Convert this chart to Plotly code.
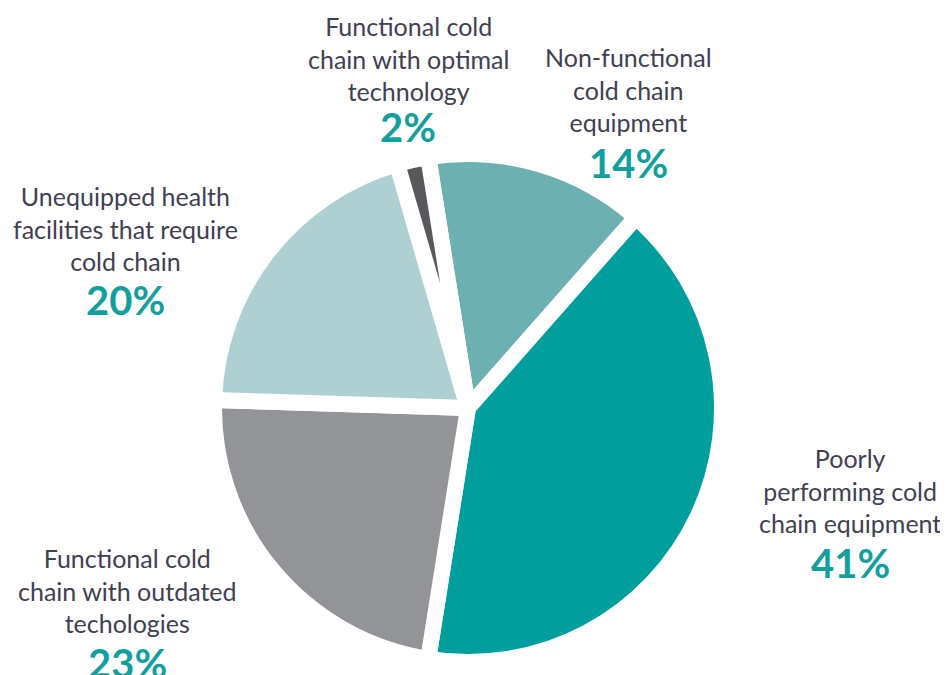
import plotly.graph_objects as go

categories = [
    "Non-functional<br>cold chain<br>equipment",
    "Poorly<br>performing cold<br>chain equipment",
    "Functional cold<br>chain with outdated<br>techologies",
    "Unequipped health<br>facilities that require<br>cold chain",
    "Functional cold<br>chain with optimal<br>technology",
]
values = [14, 41, 23, 20, 2]
slice_colors = ["#6cb0b2", "#009f9e", "#939498", "#aed0d2", "#58595c"]

# label block centres (px) and percentage centres (px), layout only
label_pos = [(628, 89), (850, 490), (127, 590), (125, 228), (408, 58)]
pct_pos = [(628, 163), (850, 563), (127, 663), (125, 300), (408, 127)]

W, H = 948, 675
OFF = 8  # page body margin
cx, cy, r = 468 - OFF, 408 - OFF, 254

fig = go.Figure()
fig.add_trace(go.Pie(
    values=values,
    labels=[c.replace("<br>", " ") for c in categories],
    sort=False,
    direction="clockwise",
    rotation=-9,
    marker=dict(colors=slice_colors, line=dict(color="white", width=16)),
    textinfo="none",
    hoverinfo="label+percent",
    domain=dict(x=[(cx - r) / W, (cx + r) / W], y=[(H - cy - r) / H, (H - cy + r) / H]),
    showlegend=False,
))

annotations = []
for cat, v, (lx, ly), (px, py) in zip(categories, values, label_pos, pct_pos):
    annotations.append(dict(
        text=cat, x=(lx - OFF) / W, y=1 - (ly - OFF) / H, xref="paper", yref="paper",
        xanchor="center", yanchor="middle", showarrow=False, align="center",
        font=dict(family="Lato, Noto Sans, sans-serif", size=25, color="#3f4052"),
    ))
    annotations.append(dict(
        text=f"<b>{v}%</b>", x=(px - OFF) / W, y=1 - (py - OFF) / H, xref="paper", yref="paper",
        xanchor="center", yanchor="middle", showarrow=False, align="center",
        font=dict(family="Lato, Noto Sans, sans-serif", size=40, color="#139f9d"),
    ))

fig.update_layout(
    width=W, height=H,
    margin=dict(l=0, r=0, t=0, b=0),
    paper_bgcolor="white", plot_bgcolor="white",
    annotations=annotations,
)
fig.write_html("out.html")
